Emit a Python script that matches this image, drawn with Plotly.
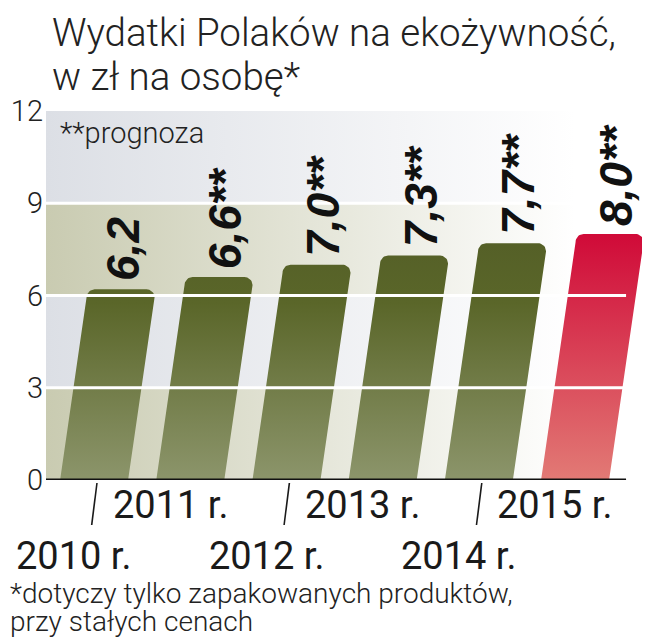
import plotly.graph_objects as go
import math

# ---------------- data ----------------
years = ["2010", "2011", "2012", "2013", "2014", "2015"]
year_labels = ["2010 r.", "2011 r.", "2012 r.", "2013 r.", "2014 r.", "2015 r."]
values = [6.2, 6.6, 7.0, 7.3, 7.7, 8.0]
value_labels = ["6,2", "6,6**", "7,0**", "7,3**", "7,7**", "8,0**"]
highlight = [False, False, False, False, False, True]
y_ticks = [0, 3, 6, 9, 12]
title_lines = ["Wydatki Polaków na ekożywność,", "w zł na osobę*"]
note_forecast = "**prognoza"
footnote_lines = ["*dotyczy tylko zapakowanych produktów,", "przy stałych cenach"]

# ---------------- style ----------------
W, H = 650, 640
ML, MR, MT, MB = 38, 5, 103, 168
PW, PH = W - ML - MR, H - MT - MB
X_RANGE = [-0.5, 5.81]
Y_RANGE = [0, 12]
PX_X = PW / (X_RANGE[1] - X_RANGE[0])
PX_Y = PH / (Y_RANGE[1] - Y_RANGE[0])
SLANT_PX = 0.145                       # horizontal px per vertical px
SLANT = SLANT_PX * PX_Y / PX_X         # x units per y unit
HALF_W = 34 / PX_X
RAD_X, RAD_Y = 8 / PX_X, 8 / PX_Y
GRID_END = 5.53

LIGHT = "Roboto, Liberation Sans, Arial, sans-serif"
BOLD = "Liberation Sans, Arial, sans-serif"
OLIVE_BAND = "#c9cbb1"
GRAY_BAND = "#dcdfe5"
GREEN_SCALE = [[0, "#8c956b"], [0.72, "#5a6629"], [1, "#545f27"]]
RED_SCALE = [[0, "#e27a75"], [1, "#d00a38"]]
TXT = "#222222"


def px_to_paper_x(px):
    return (px - ML) / PW


def px_to_paper_y(py):
    return (H - MB - py) / PH


fig = go.Figure()

# background bands (horizontal fade to white)
for k in range(len(y_ticks) - 1):
    lo, hi = y_ticks[k], y_ticks[k + 1]
    col = OLIVE_BAND if k % 2 == 0 else GRAY_BAND
    x0, x1 = X_RANGE[0], GRID_END
    fig.add_trace(go.Scatter(
        x=[x0, x1, x1, x0, x0], y=[lo, lo, hi, hi, lo],
        mode="lines", line=dict(width=0), fill="toself",
        fillgradient=dict(type="horizontal", start=X_RANGE[0], stop=5.0,
                          colorscale=[[0, col], [1, "#ffffff"]]),
        hoverinfo="skip", showlegend=False))


def bar_path(i, v):
    xs, ys = [i - HALF_W, i + HALF_W], [0, 0]
    cy = v - RAD_Y
    cx = i + HALF_W + SLANT * cy - RAD_X
    for a in range(0, 91, 10):
        t = math.radians(a)
        xs.append(cx + RAD_X * math.cos(t))
        ys.append(cy + RAD_Y * math.sin(t))
    cx = i - HALF_W + SLANT * cy + RAD_X
    for a in range(90, 181, 10):
        t = math.radians(a)
        xs.append(cx + RAD_X * math.cos(t))
        ys.append(cy + RAD_Y * math.sin(t))
    xs.append(i - HALF_W)
    ys.append(0)
    return xs, ys


for i, v in enumerate(values):
    xs, ys = bar_path(i, v)
    fig.add_trace(go.Scatter(
        x=xs, y=ys, mode="lines", line=dict(width=0), fill="toself",
        fillgradient=dict(type="vertical", start=0, stop=8,
                          colorscale=RED_SCALE if highlight[i] else GREEN_SCALE),
        hoverinfo="skip", showlegend=False))

shapes = []
for t in y_ticks[1:-1]:
    shapes.append(dict(type="line", xref="x", yref="y", x0=X_RANGE[0], x1=GRID_END,
                       y0=t, y1=t, line=dict(color="white", width=3), layer="above"))
shapes.append(dict(type="line", xref="x", yref="y", x0=X_RANGE[0], x1=GRID_END,
                   y0=0, y1=0, line=dict(color="#111111", width=3), layer="above"))

annotations = []
for i, (v, lab) in enumerate(zip(values, value_labels)):
    text_len_px = 21 * len(lab) + (6 if "**" in lab else 0)
    yc = v + (8 + text_len_px / 2) / PX_Y
    annotations.append(dict(
        x=i + SLANT * yc - 0.04, y=v, xref="x", yref="y", text=f"<b><i>{lab}</i></b>",
        textangle=-90, showarrow=False, xanchor="center", yanchor="bottom", yshift=6,
        font=dict(family=BOLD, size=46, color="#111111")))

for i, lab in enumerate(year_labels):
    lower = i % 2 == 0
    annotations.append(dict(
        x=i - 0.21, y=px_to_paper_y(548 if lower else 497), xref="x", yref="paper",
        text=lab, showarrow=False, xanchor="center", yanchor="middle",
        font=dict(family=LIGHT, size=38, color="#1a1a1a")))
    if lower:
        shapes.append(dict(type="line", xref="x", yref="paper",
                           x0=i + 0.03, x1=i - 0.025,
                           y0=px_to_paper_y(475), y1=px_to_paper_y(517),
                           line=dict(color="#1a1a1a", width=1.6)))

for k, line in enumerate(title_lines):
    annotations.append(dict(
        x=px_to_paper_x(42), y=px_to_paper_y(25 + 43 * k), xref="paper", yref="paper",
        text=line, showarrow=False, xanchor="left", yanchor="middle",
        font=dict(family=LIGHT, size=38.5, color=TXT, weight=300)))

annotations.append(dict(
    x=px_to_paper_x(50), y=px_to_paper_y(125), xref="paper", yref="paper",
    text=note_forecast, showarrow=False, xanchor="left", yanchor="middle",
    font=dict(family=LIGHT, size=29, color=TXT, weight=300)))

for k, line in enumerate(footnote_lines):
    annotations.append(dict(
        x=px_to_paper_x(0), y=px_to_paper_y(585 + 28 * k), xref="paper", yref="paper",
        text=line, showarrow=False, xanchor="left", yanchor="middle",
        font=dict(family=LIGHT, size=28, color=TXT, weight=300)))

fig.update_layout(
    width=W, height=H, margin=dict(l=ML, r=MR, t=MT, b=MB, autoexpand=False),
    paper_bgcolor="white", plot_bgcolor="white", showlegend=False,
    xaxis=dict(range=X_RANGE, visible=False, fixedrange=True, automargin=False),
    yaxis=dict(range=Y_RANGE, tickvals=y_ticks, ticktext=[str(t) for t in y_ticks],
               showgrid=False, zeroline=False, showline=False, ticks="",
               tickfont=dict(family=LIGHT, size=29, color=TXT, weight=300),
               ticklabelstandoff=2, fixedrange=True, automargin=False),
    shapes=shapes, annotations=annotations)

fig.write_html("out.html")
